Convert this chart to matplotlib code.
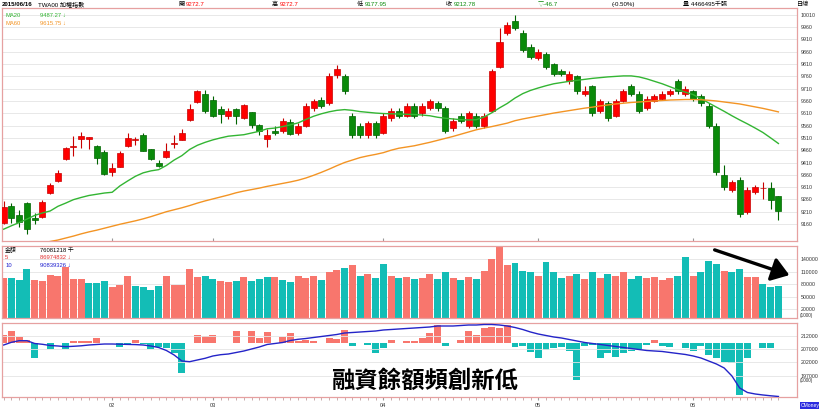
import matplotlib
matplotlib.use('Agg')
import matplotlib.pyplot as plt
import numpy as np
from matplotlib.patches import FancyArrowPatch

plt.rcParams['font.family'] = ['Noto Sans CJK TC', 'DejaVu Sans']

# ---------------- data ----------------
opens = [9165, 9234, 9197, 9246, 9185, 9189, 9286, 9335, 9425, 9475,
         9506, 9505, 9479, 9452, 9371, 9393, 9477, 9500, 9522, 9464,
         9407, 9432, 9485, 9502, 9583, 9655, 9688, 9665, 9627, 9597,
         9627, 9590, 9614, 9564, 9505, 9540, 9540, 9575, 9530, 9560,
         9630, 9665, 9650, 9765, 9760, 9600, 9560, 9520, 9570, 9530,
         9590, 9620, 9600, 9640, 9610, 9630, 9650, 9630, 9550, 9600,
         9560, 9600, 9560, 9620, 9800, 9937, 9985, 9937, 9880, 9835,
         9850, 9810, 9780, 9740, 9760, 9690, 9720, 9620, 9650, 9600,
         9660, 9720, 9690, 9630, 9660, 9670, 9690, 9740, 9690, 9700,
         9680, 9640, 9560, 9360, 9300, 9340, 9210, 9290, 9305, 9307, 9272.7]
highs = [9255, 9246, 9217, 9250, 9205, 9258, 9327, 9380, 9472, 9516,
         9535, 9515, 9482, 9460, 9410, 9455, 9528, 9512, 9530, 9466,
         9420, 9490, 9522, 9545, 9646, 9703, 9705, 9680, 9640, 9630,
         9630, 9648, 9616, 9566, 9548, 9560, 9590, 9585, 9570, 9650,
         9670, 9675, 9775, 9805, 9770, 9610, 9570, 9580, 9580, 9610,
         9630, 9630, 9650, 9650, 9650, 9670, 9660, 9640, 9590, 9610,
         9620, 9610, 9610, 9790, 9957, 9980, 10010, 9950, 9890, 9870,
         9860, 9815, 9790, 9780, 9765, 9720, 9725, 9670, 9660, 9670,
         9710, 9730, 9700, 9680, 9690, 9700, 9710, 9750, 9720, 9705,
         9690, 9650, 9570, 9400, 9340, 9350, 9310, 9320, 9330, 9330, 9272.7]
lows = [9160, 9165, 9148, 9120, 9160, 9185, 9280, 9330, 9420, 9437,
        9470, 9466, 9405, 9360, 9355, 9390, 9475, 9480, 9455, 9420,
        9393, 9428, 9470, 9500, 9580, 9650, 9613, 9595, 9570, 9585,
        9565, 9587, 9552, 9520, 9475, 9520, 9530, 9520, 9520, 9555,
        9620, 9630, 9645, 9755, 9690, 9510, 9510, 9510, 9510, 9525,
        9580, 9590, 9595, 9590, 9600, 9625, 9620, 9530, 9540, 9570,
        9550, 9550, 9550, 9615, 9795, 9930, 9950, 9860, 9830, 9825,
        9790, 9760, 9760, 9730, 9690, 9680, 9600, 9610, 9580, 9595,
        9655, 9680, 9610, 9625, 9655, 9665, 9680, 9690, 9680, 9660,
        9640, 9550, 9360, 9300, 9290, 9190, 9200, 9280, 9260, 9220, 9177.95]
closes = [9230, 9185, 9168, 9140, 9177, 9250, 9319, 9368, 9469, 9478,
          9519, 9512, 9427, 9362, 9387, 9448, 9511, 9505, 9457, 9423,
          9396, 9458, 9490, 9529, 9627, 9701, 9621, 9601, 9608, 9620,
          9597, 9644, 9563, 9540, 9522, 9530, 9580, 9525, 9560, 9640,
          9660, 9640, 9760, 9790, 9700, 9520, 9520, 9570, 9520, 9600,
          9620, 9600, 9640, 9600, 9640, 9660, 9630, 9540, 9580, 9580,
          9610, 9560, 9600, 9780, 9900, 9969, 9957, 9868, 9840, 9860,
          9800, 9770, 9770, 9770, 9700, 9700, 9610, 9660, 9590, 9660,
          9700, 9690, 9620, 9670, 9680, 9690, 9700, 9700, 9710, 9670,
          9650, 9560, 9370, 9310, 9330, 9200, 9300, 9310, 9307, 9259, 9212.78]

ma20 = [9139, 9153, 9166, 9180, 9195, 9205, 9213, 9232, 9245, 9259,
        9268, 9276, 9281, 9286, 9289, 9315, 9335, 9354, 9368, 9376,
        9381, 9398, 9420, 9438, 9463, 9480, 9492, 9502, 9510, 9517,
        9520, 9523, 9530, 9537, 9547, 9550, 9556, 9563, 9571, 9585,
        9598, 9608, 9616, 9622, 9625, 9622, 9617, 9614, 9611, 9609,
        9608, 9607, 9606, 9605, 9603, 9600, 9594, 9590, 9587, 9584,
        9583, 9584, 9595, 9612, 9632, 9650, 9672, 9690, 9703, 9713,
        9722, 9730, 9735, 9740, 9744, 9748, 9752, 9755, 9758, 9760,
        9762, 9762, 9758, 9750, 9740, 9730, 9718, 9706, 9696, 9686,
        9670, 9652, 9635, 9618, 9600, 9583, 9567, 9550, 9532, 9510, 9487.27]
ma60 = [9055, 9060, 9066, 9072, 9078, 9084, 9089, 9095, 9103, 9111,
        9120, 9128, 9135, 9143, 9151, 9159, 9166, 9173, 9181, 9190,
        9200, 9210, 9218, 9226, 9235, 9245, 9254, 9262, 9270, 9278,
        9287, 9294, 9300, 9306, 9313, 9319, 9325, 9331, 9338, 9347,
        9358, 9370, 9383, 9397, 9410, 9420, 9430, 9437, 9443, 9450,
        9460, 9468, 9473, 9478, 9485, 9492, 9500, 9508, 9516, 9525,
        9534, 9543, 9550, 9556, 9563, 9570, 9580, 9587, 9593, 9599,
        9605, 9611, 9616, 9621, 9626, 9631, 9635, 9640, 9644, 9648,
        9651, 9654, 9656, 9658, 9660, 9662, 9664, 9665, 9666, 9666,
        9665, 9663, 9660, 9656, 9652, 9648, 9642, 9636, 9630, 9623, 9615.75]

# trading amount (millions) and bar colour flag (1 = up / red)
amount = [93700, 95300, 90500, 116700, 90500, 87300, 100800, 99200, 119900, 91300,
          91300, 83400, 83400, 88100, 73000, 78600, 98400, 75400, 73000, 66700,
          76200, 98400, 77000, 78600, 115900, 96800, 99200, 92900, 86500, 85700,
          86500, 96000, 87300, 92900, 97600, 97600, 89700, 84200, 98400, 95000,
          100000, 90000, 110000, 113000, 118000, 125000, 100000, 105000, 95000, 128000,
          100000, 95000, 98000, 92000, 95000, 105000, 92000, 110000, 95000, 90000,
          98000, 92000, 112000, 140000, 170000, 125000, 130000, 112000, 108000, 100000,
          132000, 110000, 95000, 100000, 105000, 92000, 110000, 95000, 105000, 100000,
          110000, 92000, 100000, 95000, 98000, 90000, 95000, 100000, 145000, 100000,
          108000, 135000, 128000, 112000, 108000, 115000, 98000, 98000, 80000, 74000, 76081]
amount_up = [1, 0, 0, 0, 1, 1, 1, 1, 1, 1, 1, 0, 0, 0, 1, 1, 1, 0, 0, 0,
             0, 1, 1, 1, 1, 1, 0, 0, 1, 1, 0, 1, 0, 0, 0, 1, 0, 0, 1, 1,
             1, 0, 1, 1, 0, 1, 0, 1, 0, 0, 1, 0, 1, 0, 1, 1, 0, 0, 1, 0,
             1, 0, 1, 1, 1, 1, 0, 0, 0, 1, 0, 0, 0, 1, 0, 1, 0, 1, 0, 1,
             1, 0, 0, 1, 1, 1, 1, 0, 0, 1, 0, 0, 0, 1, 0, 0, 1, 1, 0, 0, 0]

# margin balance (millions) and its daily change
margin = [208530, 209540, 210140, 210140, 209090, 208790, 208340, 208160, 207900, 208050,
          208230, 208530, 208720, 208900, 208900, 208830, 208750, 208680, 208530, 208160,
          207600, 206480, 204800, 202560, 202300, 202940, 203570, 204430, 204910, 205170,
          205730, 206290, 207040, 207790, 208720, 209090, 209460, 210210, 210660, 210950,
          211330, 211700, 212070, 212450, 213010, 213190, 213380, 213570, 213750, 214130,
          214310, 214500, 214690, 214870, 215060, 215250, 215620, 215620, 215620, 215800,
          215990, 215990, 216180, 216180, 215990, 215620, 215060, 214310, 213380, 212630,
          212070, 211520, 211140, 210580, 210020, 209460, 209090, 208720, 208340, 207970,
          207600, 207220, 206850, 206480, 206290, 206110, 205730, 205360, 204990, 204430,
          203680, 202560, 201440, 199950, 196970, 192490, 190810, 190250, 189880, 189580, 189320]
margin_chg = [830, 1270, 670, 330, -1500, 0, -600, 0, -600, 270,
              270, 270, 500, 0, 0, -340, -170, 330, -100, -600,
              -330, -500, -1000, -2930, 0, 830, 770, 830, 0, 0,
              1270, 0, 1270, 500, 1100, 0, 670, 1000, 270, 300,
              200, 0, 500, 400, 1300, -300, 0, -200, -1000, -500,
              300, 0, 200, 200, 500, 1000, 1800, -300, 0, 300,
              1200, 800, 1500, 1600, 1500, 1800, -400, -300, -900, -1500,
              -700, -500, -400, -800, -3700, -300, -200, -1500, -1000, -1400,
              -1000, -800, -600, -200, 300, -300, -400, 0, -500, -800,
              -300, -1200, -1500, -1900, -2000, -5200, -1500, 0, -430, -430, 0]

month_pos = [14, 27, 49, 69, 89]
month_labels = ['02', '03', '04', '05', '06']

price_ticks = list(range(9160, 10011, 50))
amount_ticks = [20000, 50000, 80000, 110000, 140000]
margin_ticks = [197000, 202000, 207000, 212000]

# ---------------- style ----------------
RED = '#FF0000'
GREEN = '#0A8A0A'
SALMON = '#F8766D'
TEAL = '#13BDB6'
BORDER = '#E6A0A0'
GRID = '#E4E4E4'
TXT = '#333333'
NUMFONT = 'Liberation Sans'

W, H = 820, 413
fig = plt.figure(figsize=(8.2, 4.13), dpi=100)
fig.patch.set_facecolor('white')


def ax_px(x0, y0, x1, y1):
    return fig.add_axes([x0 / W, 1 - y1 / H, (x1 - x0) / W, (y1 - y0) / H])


n = len(closes)
xs = np.arange(n)
XL = (-0.22, 102.4)


def style(ax):
    for s in ax.spines.values():
        s.set_color(BORDER)
        s.set_linewidth(0.9)
    ax.set_xlim(*XL)
    ax.yaxis.tick_right()
    ax.tick_params(axis='y', length=0, labelsize=3.8, labelcolor=TXT, pad=2.5,
                   labelfontfamily=NUMFONT)
    ax.set_axisbelow(True)


def small(ax, x, y, s, color, size=4.2):
    ax.text(x, y, s, transform=ax.transAxes, fontsize=size, color=color, va='center',
            family=[NUMFONT, 'Noto Sans CJK TC', 'DejaVu Sans'])


# ---- price panel ----
ax1 = ax_px(2, 7.5, 797, 241)
style(ax1)
ax1.set_ylim(9091, 10040)
ax1.set_yticks(price_ticks)
ax1.set_yticklabels([str(t) for t in price_ticks])
ax1.grid(axis='y', color=GRID, linewidth=0.6)
ax1.set_xticks(month_pos)
ax1.tick_params(axis='x', direction='in', length=2, color='#999999', labelbottom=False)

o = np.array(opens); c = np.array(closes); h = np.array(highs); l = np.array(lows)
up = c >= o
cols = np.where(up, RED, GREEN)
edges = np.where(up, '#C80000', '#006400')
ax1.vlines(xs, l, h, colors=edges, linewidth=0.8, zorder=2)
body_h = np.maximum(np.abs(c - o), 2)
ax1.bar(xs, body_h, bottom=np.minimum(o, c), width=0.78, color=cols,
        edgecolor=edges, linewidth=0.5, zorder=3)
ax1.plot(xs, ma20, color='#33B533', linewidth=1.0, zorder=4)
ax1.plot(xs, ma60, color='#F39424', linewidth=1.0, zorder=4)

small(ax1, 0.004, 0.965, 'MA20', '#33B533')
small(ax1, 0.048, 0.965, '9487.27 ↓', '#33B533')
small(ax1, 0.004, 0.93, 'MA60', '#F39424')
small(ax1, 0.048, 0.93, '9615.75 ↓', '#F39424')

# ---- amount panel ----
ax2 = ax_px(2, 245.5, 797, 318)
style(ax2)
ax2.set_ylim(-700, 171900)
ax2.set_yticks(amount_ticks)
ax2.set_yticklabels([str(t) for t in amount_ticks])
ax2.grid(axis='y', color=GRID, linewidth=0.6)
ax2.set_xticks([])
acol = [SALMON if u else TEAL for u in amount_up]
ax2.bar(xs, amount, width=0.9, color=acol, zorder=2)
small(ax2, 1.003, 0.03, '(1000)', TXT, 3.4)
small(ax2, 0.004, 0.93, '金額', 'black')
small(ax2, 0.048, 0.93, '76081218 千', 'black')
small(ax2, 0.004, 0.83, '5', '#E03030')
small(ax2, 0.048, 0.83, '86974832 ↓', '#E03030')
small(ax2, 0.004, 0.73, '10', '#2020D0')
small(ax2, 0.048, 0.73, '90839326 ↓', '#2020D0')

# ---- margin panel ----
ax3 = ax_px(2, 322.5, 797, 397)
ax3b = ax3.twinx()
style(ax3)
ax3.yaxis.tick_right()
ax3.set_ylim(189125, 216925)
ax3.set_yticks(margin_ticks)
ax3.set_yticklabels([str(t) for t in margin_ticks])
ax3.tick_params(axis='y', left=False, labelleft=False, right=False, labelright=True)
ax3.grid(axis='y', color=GRID, linewidth=0.6)
ax3.set_xticks(month_pos)
ax3.set_xticklabels(month_labels)
ax3.set_xticks(xs, minor=True)
ax3.tick_params(axis='x', which='major', length=2.5, color='#999999', labelsize=4,
                labelcolor=TXT, pad=2, labelfontfamily=NUMFONT)
ax3.tick_params(axis='x', which='minor', length=2, color='#C0A0A0')
small(ax3, 1.003, 0.215, '(1000)', TXT, 3.4)

ax3b.set_ylim(-5370, 2080)
ax3b.set_yticks([])
ax3b.tick_params(axis='y', left=False, right=False, labelleft=False, labelright=False)
for s in ax3b.spines.values():
    s.set_visible(False)
mc = np.array(margin_chg)
ax3b.bar(xs, mc, width=0.9, color=[SALMON if v >= 0 else TEAL for v in mc], zorder=1)
ax3.set_zorder(ax3b.get_zorder() + 1)
ax3.patch.set_visible(False)
ax3.plot(xs, margin, color='#2424C8', linewidth=1.0, zorder=5)

ax3.text(0.532, 0.21, '融資餘額頻創新低', transform=ax3.transAxes, fontsize=16.8,
         fontweight='bold', color='black', ha='center', va='center', zorder=10)

# arrow in amount panel
arr = FancyArrowPatch((712 / W, 1 - 249 / H), (792 / W, 1 - 276 / H),
                      transform=fig.transFigure, arrowstyle='-|>,head_length=6.5,head_width=4.5',
                      color='black', linewidth=2.4, mutation_scale=1.6)
fig.patches.append(arr)


# ---- header ----
def hdr(x, s, color='black', **kw):
    fig.text(x / W, 1 - 4.5 / H, s, fontsize=4.4, color=color, va='center',
             family=[NUMFONT, 'Noto Sans CJK TC', 'DejaVu Sans'], **kw)


hdr(2, '2015/06/16', fontweight='bold')
hdr(38, 'TWA00 加權指數')
hdr(178, '開')
hdr(186, '9272.7', RED)
hdr(272, '高')
hdr(280, '9272.7', RED)
hdr(357, '低')
hdr(365, '9177.95', GREEN)
hdr(446, '收')
hdr(454, '9212.78', GREEN)
hdr(538, '▽-46.7', GREEN)
hdr(612, '(-0.50%)')
hdr(683, '量 4466495千張')
hdr(797, '日線')

fig.text(810 / W, 1 - 405.5 / H, 'CMoney', fontsize=3.6, color='white', ha='center', va='center',
         family=NUMFONT,
         bbox=dict(boxstyle='square,pad=0.2', facecolor='#2B2BE0', edgecolor='none'))

fig.savefig('out.png', dpi=100)
